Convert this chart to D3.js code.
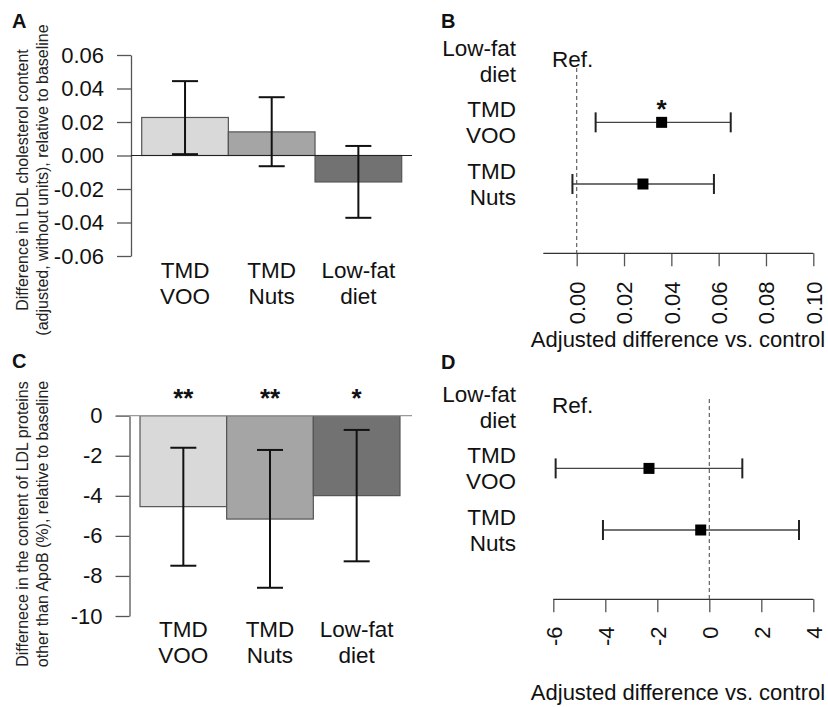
<!DOCTYPE html>
<html>
<head>
<meta charset="utf-8">
<script src="https://cdn.jsdelivr.net/npm/d3@7"></script>
<style>
  html, body { margin: 0; padding: 0; background: #fff; }
  svg { display: block; font-family: "Liberation Sans", Arial, Helvetica, sans-serif; }
</style>
</head>
<body>
<svg id="chart" width="828" height="707"></svg>
<script>
// ---------------- data ----------------
const categories = ["TMD VOO", "TMD Nuts", "Low-fat diet"];
const categoryLines = [["TMD", "VOO"], ["TMD", "Nuts"], ["Low-fat", "diet"]];

// Panel A: difference in LDL cholesterol content
const ldlMean  = [0.0227, 0.0141, -0.0158];
const ldlLower = [0.0008, -0.0064, -0.0372];
const ldlUpper = [0.0444, 0.0348, 0.0057];
const ldlTicks = [-0.06, -0.04, -0.02, 0, 0.02, 0.04, 0.06];

// Panel C: difference in LDL proteins other than ApoB (%)
const protMean  = [-4.54, -5.16, -3.99];
const protLower = [-7.49, -8.59, -7.27];
const protUpper = [-1.60, -1.71, -0.71];
const protStars = ["**", "**", "*"];
const protTicks = [-10, -8, -6, -4, -2, 0];

// Forest panels (B, D): rows
const forestRows = ["Low-fat diet", "TMD VOO", "TMD Nuts"];
const forestRowLines = [["Low-fat", "diet"], ["TMD", "VOO"], ["TMD", "Nuts"]];

// Panel B: adjusted difference vs control (LDL cholesterol)
const bEst   = [null, 0.0359, 0.0280];
const bLower = [null, 0.0080, -0.0018];
const bUpper = [null, 0.0651, 0.0580];
const bStars = ["", "*", ""];
const bTicks = [0, 0.02, 0.04, 0.06, 0.08, 0.10];

// Panel D: adjusted difference vs control (LDL proteins)
const dEst   = [null, -2.32, -0.33];
const dLower = [null, -5.91, -4.09];
const dUpper = [null, 1.27, 3.45];
const dStars = ["", "", ""];
const dTicks = [-6, -4, -2, 0, 2, 4];

const barColors = ["#d9d9d9", "#a5a5a5", "#727272"];

// ---------------- drawing ----------------
const svg = d3.select("#chart");
const txt = "#111";
const LABEL = 22.5, TICK = 22;

function panelLetter(x, y, s) {
  svg.append("text").attr("x", x).attr("y", y).text(s)
    .attr("font-size", 20).attr("font-weight", "bold").attr("fill", txt);
}

function yTitle(lines, cy) {
  const xs = [28, 48];
  lines.forEach((l, i) => {
    svg.append("text")
      .attr("transform", `translate(${xs[i]},${cy}) rotate(-90)`)
      .attr("text-anchor", "middle")
      .attr("font-size", 16).attr("fill", "#222")
      .text(l);
  });
}

function barPanel(opt) {
  const y = d3.scaleLinear().domain(opt.domain).range(opt.yRange);
  const x = d3.scaleBand().domain(categories).range(opt.xRange).padding(0);
  const g = svg.append("g");

  // axis
  const ax = g.append("g").attr("transform", `translate(${opt.axisX},0)`)
    .call(d3.axisLeft(y).tickValues(opt.ticks).tickSize(14).tickSizeOuter(0)
      .tickPadding(13).tickFormat(opt.fmt));
  ax.select(".domain").attr("stroke", "#555").attr("stroke-width", 1.3);
  ax.selectAll(".tick line").attr("stroke", "#555").attr("stroke-width", 1.3);
  ax.selectAll(".tick text").attr("font-size", TICK).attr("fill", txt)
    .attr("font-family", "Liberation Sans, Arial, sans-serif");

  // bars
  g.selectAll("rect.bar").data(categories).join("rect")
    .attr("x", d => x(d))
    .attr("width", x.bandwidth())
    .attr("y", (d, i) => Math.min(y(0), y(opt.mean[i])))
    .attr("height", (d, i) => Math.abs(y(0) - y(opt.mean[i])))
    .attr("fill", (d, i) => barColors[i])
    .attr("stroke", "#555").attr("stroke-width", 1.2);

  // zero line
  g.append("line").attr("x1", opt.zeroX1).attr("x2", opt.zeroX2)
    .attr("y1", y(0)).attr("y2", y(0))
    .attr("stroke", opt.zeroColor).attr("stroke-width", 1.2);

  // error bars
  categories.forEach((c, i) => {
    const cx = x(c) + x.bandwidth() / 2;
    g.append("line").attr("x1", cx).attr("x2", cx)
      .attr("y1", y(opt.lower[i])).attr("y2", y(opt.upper[i]))
      .attr("stroke", "#111").attr("stroke-width", 2);
    [opt.lower[i], opt.upper[i]].forEach(v => {
      g.append("line").attr("x1", cx - 13).attr("x2", cx + 13)
        .attr("y1", y(v)).attr("y2", y(v))
        .attr("stroke", "#111").attr("stroke-width", 2);
    });
    // category labels
    categoryLines[i].forEach((l, k) => {
      g.append("text").attr("x", cx).attr("y", opt.labelY + k * 26)
        .attr("text-anchor", "middle").attr("font-size", LABEL).attr("fill", txt).text(l);
    });
    if (opt.stars && opt.stars[i]) {
      g.append("text").attr("x", cx).attr("y", opt.starY)
        .attr("text-anchor", "middle").attr("font-size", 26).attr("font-weight", "bold")
        .attr("fill", txt).text(opt.stars[i]);
    }
  });
}

function forestPanel(opt) {
  const x = d3.scaleLinear().domain(opt.domain).range(opt.xRange);
  const ry = d3.scalePoint().domain(forestRows).range(opt.rowRange);
  const g = svg.append("g");

  // axis
  const ax = g.append("g").attr("transform", `translate(0,${opt.axisY})`)
    .call(d3.axisBottom(x).tickValues(opt.ticks).tickSize(13).tickSizeOuter(0).tickFormat(opt.fmt));
  ax.select(".domain").remove();
  g.append("line").attr("x1", opt.axisX1).attr("x2", x(opt.domain[1]))
    .attr("y1", opt.axisY).attr("y2", opt.axisY).attr("stroke", "#333").attr("stroke-width", 1.3);
  ax.selectAll(".tick line").attr("stroke", "#555").attr("stroke-width", 1.3);
  ax.selectAll(".tick text")
    .attr("transform", "rotate(-90)")
    .attr("x", -(opt.labelTop - opt.axisY)).attr("y", 0).attr("dy", "0.36em")
    .attr("text-anchor", "end").attr("font-size", TICK).attr("fill", txt)
    .attr("font-family", "Liberation Sans, Arial, sans-serif");

  // dashed reference line
  g.append("line").attr("x1", x(0)).attr("x2", x(0))
    .attr("y1", opt.dashTop).attr("y2", opt.axisY)
    .attr("stroke", "#555").attr("stroke-width", 1.1).attr("stroke-dasharray", "4,3");

  // row labels
  forestRows.forEach((r, i) => {
    const yy = ry(r);
    forestRowLines[i].forEach((l, k) => {
      g.append("text").attr("x", opt.rowLabelX).attr("y", yy - 5 + k * 26)
        .attr("text-anchor", "end").attr("font-size", LABEL).attr("fill", txt).text(l);
    });
    if (opt.est[i] == null) {
      g.append("text").attr("x", opt.refX).attr("y", yy + 6)
        .attr("font-size", LABEL).attr("fill", txt).text("Ref.");
      return;
    }
    g.append("line").attr("x1", x(opt.lower[i])).attr("x2", x(opt.upper[i]))
      .attr("y1", yy).attr("y2", yy).attr("stroke", "#444").attr("stroke-width", 1.3);
    [opt.lower[i], opt.upper[i]].forEach(v => {
      g.append("line").attr("x1", x(v)).attr("x2", x(v))
        .attr("y1", yy - 10).attr("y2", yy + 10).attr("stroke", "#222").attr("stroke-width", 2);
    });
    g.append("rect").attr("x", x(opt.est[i]) - 5.5).attr("y", yy - 5.5)
      .attr("width", 11).attr("height", 11).attr("fill", "#000");
    if (opt.stars[i]) {
      g.append("text").attr("x", x(opt.est[i])).attr("y", yy - 4)
        .attr("text-anchor", "middle").attr("font-size", 26).attr("font-weight", "bold")
        .attr("fill", txt).text(opt.stars[i]);
    }
  });

  g.append("text").attr("x", opt.titleX).attr("y", opt.titleY)
    .attr("text-anchor", "middle").attr("font-size", 22).attr("fill", txt)
    .text("Adjusted difference vs. control");
}

// Panel A
panelLetter(12, 28, "A");
yTitle(["Difference in LDL cholesterol content",
        "(adjusted, without units), relative to baseline"], 180);
barPanel({
  domain: [-0.06, 0.06], yRange: [256, 55], xRange: [141.7, 401.7],
  axisX: 131, ticks: ldlTicks, fmt: d => d.toFixed(2),
  mean: ldlMean, lower: ldlLower, upper: ldlUpper,
  zeroX1: 131, zeroX2: 412, zeroColor: "#222",
  labelY: 277.5
});

// Panel C
panelLetter(12, 368, "C");
yTitle(["Differnece in the content of LDL proteins",
        "other than ApoB (%), relative to baseline"], 524);
barPanel({
  domain: [-10, 0], yRange: [616, 415.7], xRange: [140, 400],
  axisX: 129.5, ticks: protTicks, fmt: d => String(d),
  mean: protMean, lower: protLower, upper: protUpper,
  zeroX1: 116, zeroX2: 412, zeroColor: "#999",
  labelY: 637.3, stars: protStars, starY: 407
});

// Panel B
panelLetter(441, 28, "B");
forestPanel({
  domain: [0, 0.10], xRange: [576.7, 813.3], axisY: 253.3, axisX1: 543.3,
  ticks: bTicks, fmt: d => d.toFixed(2), labelTop: 281.5,
  rowRange: [60.7, 184], rowLabelX: 516, refX: 552, dashTop: 68,
  est: bEst, lower: bLower, upper: bUpper, stars: bStars,
  titleX: 678, titleY: 347
});

// Panel D
panelLetter(441, 369, "D");
forestPanel({
  domain: [-6, 4], xRange: [553.3, 813.3], axisY: 599.3, axisX1: 553.3,
  ticks: dTicks, fmt: d => String(d), labelTop: 626.5,
  rowRange: [406.8, 530], rowLabelX: 516, refX: 552, dashTop: 399,
  est: dEst, lower: dLower, upper: dUpper, stars: dStars,
  titleX: 678, titleY: 700
});
</script>
</body>
</html>
